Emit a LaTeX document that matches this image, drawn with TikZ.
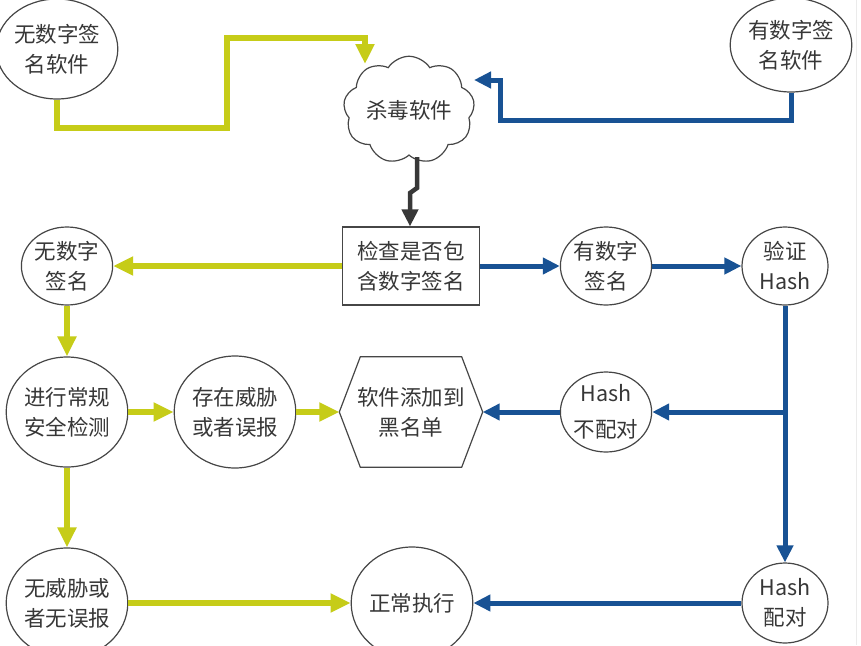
\documentclass[tikz,border=0pt]{standalone}
\usepackage{fontspec}
\setmainfont{Noto Sans CJK SC}
\usetikzlibrary{shapes.geometric,shapes.symbols,arrows.meta}
\definecolor{ygreen}{RGB}{198,204,24}
\definecolor{dblue}{RGB}{24,82,148}
\definecolor{txt}{RGB}{55,55,55}
\definecolor{edge}{RGB}{70,70,70}
\begin{document}
\begin{tikzpicture}[x=1pt,y=-1pt,
  every node/.style={font=\fontsize{21.5}{30}\selectfont, text=txt, align=center, inner sep=0pt},
  oval/.style={ellipse, draw=edge, line width=1.2pt, fill=white},
  boxnode/.style={rectangle, draw=edge, line width=1.2pt, fill=white},
  yflow/.style={draw=ygreen, line width=6pt, -{Triangle[length=20pt,width=18pt]}},
  bflow/.style={draw=dblue, line width=5pt, -{Triangle[length=17pt,width=16pt]}},
  dflow/.style={draw=edge!80!black, line width=4.5pt, -{Triangle[length=17pt,width=16pt]}}
]
\useasboundingbox (0,0) rectangle (861,645);
\fill[white] (0,0) rectangle (861,645);
\draw[black!8, line width=1pt] (856,0) -- (856,645);

% nodes
\node[oval, minimum width=112pt, minimum height=100pt] (nosw) at (57,49) {无数字签\\名软件};
\node[oval, minimum width=115pt, minimum height=94pt] (hassw) at (791,45) {有数字签\\名软件};
\node[cloud, cloud puffs=9, cloud puff arc=115, aspect=1.35, draw=edge, line width=1.2pt, fill=white,
      minimum width=130pt, minimum height=96pt] (av) at (409,110) {杀毒软件};
\node[boxnode, minimum width=137pt, minimum height=78pt] (check) at (411,266) {检查是否包\\含数字签名};
\node[oval, minimum width=90pt, minimum height=78pt] (nosig) at (67,266) {无数字\\签名};
\node[oval, minimum width=87pt, minimum height=78pt] (hassig) at (606,266) {有数字\\签名};
\node[oval, minimum width=86pt, minimum height=78pt] (verify) at (785,266) {验证\\Hash};
\node[oval, minimum width=117pt, minimum height=110pt] (scan) at (67,412) {进行常规\\安全检测};
\node[oval, minimum width=110pt, minimum height=112pt] (threat) at (235,412) {存在威胁\\或者误报};
\node[minimum width=143pt, minimum height=110pt] (black) at (411,412) {软件添加到\\黑名单};
\draw[edge, line width=1.2pt] (black.west) -- ([xshift=21pt]black.north west) -- ([xshift=-21pt]black.north east)
  -- (black.east) -- ([xshift=-21pt]black.south east) -- ([xshift=21pt]black.south west) -- cycle;
\node[oval, minimum width=87pt, minimum height=80pt, font=\fontsize{21.5}{36}\selectfont] (nomatch) at (606,412) {Hash\\不配对};
\node[oval, minimum width=110pt, minimum height=110pt] (nothreat) at (67,603) {无威胁或\\者无误报};
\node[oval, minimum width=110pt, minimum height=112pt] (run) at (412,603) {正常执行};
\node[oval, minimum width=86pt, minimum height=80pt] (match) at (785,603) {Hash\\配对};

% named coordinates
\coordinate (avin1) at (365,64);
\coordinate (avin2) at (474,80);
\coordinate (branch) at (785,412);
\coordinate (avout) at (417,157);

% connectors
\draw[yflow, line join=miter] (nosw.south) -- (nosw.south |- 0,128) -- (227,128) -- (227,38) -- (avin1 |- 0,38) -- (avin1);
\draw[bflow, line join=miter] (hassw.south) -- (hassw.south |- 0,120) -- (500,120) -- (500,80) -- (avin2);
\draw[dflow] (avout) -- (417,188) -- (410,193) -- (check.north -| 410,0);
\draw[yflow] (check.west) -- (nosig.east);
\draw[bflow] (check.east) -- (hassig.west);
\draw[bflow] (hassig.east) -- (verify.west);
\draw[yflow] (nosig.south) -- (scan.north);
\draw[yflow] (scan.east) -- (threat.west);
\draw[yflow] (threat.east) -- (black.west);
\draw[yflow] (scan.south) -- (nothreat.north);
\draw[yflow] (nothreat.east) -- (run.west);
\draw[bflow] (verify.south) -- (match.north);
\draw[bflow] (branch) -- (nomatch.east);
\draw[bflow] (nomatch.west) -- (black.east);
\draw[bflow] (match.west) -- (run.east);
\end{tikzpicture}
\end{document}
